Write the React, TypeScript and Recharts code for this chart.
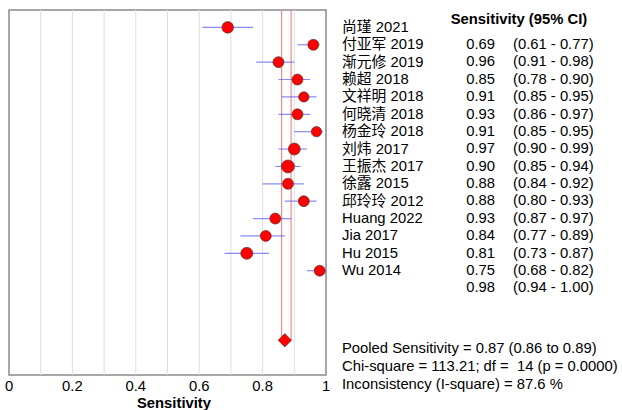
import React from 'react';
import { ComposedChart, XAxis, YAxis, Scatter, ErrorBar, ReferenceLine, ReferenceArea } from 'recharts';

// study labels, top to bottom
const studies = [
  '尚瑾 2021', '付亚军 2019', '渐元修 2019', '赖超 2018', '文祥明 2018',
  '何晓清 2018', '杨金玲 2018', '刘炜 2017', '王振杰 2017', '徐露 2015',
  '邱玲玲 2012', 'Huang 2022', 'Jia 2017', 'Hu 2015', 'Wu 2014',
];
const sensitivity = [0.69, 0.96, 0.85, 0.91, 0.93, 0.91, 0.97, 0.90, 0.88, 0.88, 0.93, 0.84, 0.81, 0.75, 0.98];
const ciLow = [0.61, 0.91, 0.78, 0.85, 0.86, 0.85, 0.90, 0.85, 0.84, 0.80, 0.87, 0.77, 0.73, 0.68, 0.94];
const ciHigh = [0.77, 0.98, 0.90, 0.95, 0.97, 0.95, 0.99, 0.94, 0.92, 0.93, 0.97, 0.89, 0.87, 0.82, 1.00];
// dot radius (study weight)
const weights = [5.8, 5.5, 5.5, 5.5, 5.2, 5.5, 5.2, 6, 6.5, 5.5, 5.5, 5.5, 5.5, 6, 5.5];

const pooled = { est: 0.87, lo: 0.86, hi: 0.89, row: 19 };
const xTicks = [0, 0.2, 0.4, 0.6, 0.8, 1];
const gridTicks = [0.1, 0.2, 0.3, 0.4, 0.5, 0.6, 0.7, 0.8, 0.9];
const statsLines = [
  'Pooled Sensitivity = 0.87 (0.86 to 0.89)',
  'Chi-square = 113.21; df =  14 (p = 0.0000)',
  'Inconsistency (I-square) = 87.6 %',
];

const W = 622;
const H = 410;
const TOP = 10;
const PLOT_H = 365;
const ROWS = 21;
const FONT = '"Liberation Sans", Arial, "Noto Sans CJK SC", sans-serif';
const FS = 14.8;

const rowY = (r: number) => TOP + (r * PLOT_H) / ROWS;

const studyData = studies.map((name, i) => ({
  name,
  x: sensitivity[i],
  y: i + 1,
  r: weights[i],
  err: [sensitivity[i] - ciLow[i], ciHigh[i] - sensitivity[i]],
}));

const Dot = (props: any) => {
  const { cx, cy, payload } = props;
  return <circle cx={cx} cy={cy} r={payload.r} fill="#ff0000" stroke="#333" strokeWidth={0.6} />;
};

const Diamond = (props: any) => {
  const { cx, cy } = props;
  const s = 6.7;
  return (
    <polygon
      points={`${cx - s},${cy} ${cx},${cy - s} ${cx + s},${cy} ${cx},${cy + s}`}
      fill="#ff0000"
      stroke="#333"
      strokeWidth={0.6}
    />
  );
};

const Empty = () => <g />;

const SideText = () => (
  <g fontFamily={FONT} fontSize={FS} fill="#000">
    <text x={519} y={rowY(0.5)} textAnchor="middle" dominantBaseline="central" fontWeight="bold">
      Sensitivity (95% CI)
    </text>
    {studies.map((s, i) => (
      <text key={s} x={342} y={rowY(i + 1) - 0.5} dominantBaseline="central">
        {s}
      </text>
    ))}
    {sensitivity.map((v, i) => (
      <g key={i}>
        <text x={495} y={rowY(i + 2) - 0.7} textAnchor="end" dominantBaseline="central">
          {v.toFixed(2)}
        </text>
        <text x={513} y={rowY(i + 2) - 0.7} dominantBaseline="central">
          {`(${ciLow[i].toFixed(2)} - ${ciHigh[i].toFixed(2)})`}
        </text>
      </g>
    ))}
    {statsLines.map((t, i) => (
      <text key={t} x={342} y={348.3 + i * 18} dominantBaseline="central" style={{ whiteSpace: 'pre' }}>
        {t}
      </text>
    ))}
    <text x={174} y={403} textAnchor="middle" dominantBaseline="central" fontWeight="bold">
      Sensitivity
    </text>
  </g>
);

export default function App() {
  return (
    <div style={{ position: 'absolute', left: 0, top: 0, width: W, height: H, background: '#fff' }}>
      <ComposedChart width={W} height={H} margin={{ top: TOP, left: 9, right: 296, bottom: 0 }}>
        <XAxis
          type="number"
          dataKey="x"
          domain={[0, 1]}
          ticks={xTicks}
          tickFormatter={(v: number) => String(v)}
          axisLine={false}
          tickLine={false}
          tickSize={3}
          tickMargin={2}
          height={35}
          interval={0}
          tick={{ fill: '#000', fontSize: FS, fontFamily: FONT }}
        />
        <YAxis type="number" dataKey="y" domain={[0, ROWS]} reversed hide />
        {gridTicks.map((g) => (
          <ReferenceLine key={g} x={g} stroke="#dedede" strokeWidth={1} />
        ))}
        <ReferenceLine
          segment={[{ x: pooled.lo, y: 0 }, { x: pooled.lo, y: pooled.row }]}
          stroke="#f08a8a"
          strokeWidth={1.2}
        />
        <ReferenceLine
          segment={[{ x: pooled.hi, y: 0 }, { x: pooled.hi, y: pooled.row }]}
          stroke="#f08a8a"
          strokeWidth={1.2}
        />
        <ReferenceArea x1={0} x2={1} y1={0} y2={ROWS} fill="none" stroke="#8a8a8a" strokeWidth={1.5} />
        <Scatter data={studyData} shape={Dot} isAnimationActive={false} />
        <Scatter data={studyData} shape={Empty} isAnimationActive={false}>
          <ErrorBar dataKey="err" direction="x" width={0} stroke="#5a5af0" strokeOpacity={0.7} strokeWidth={1.2} />
        </Scatter>
        <Scatter data={[{ x: pooled.est, y: pooled.row }]} shape={Diamond} isAnimationActive={false} />
        <SideText />
      </ComposedChart>
    </div>
  );
}
